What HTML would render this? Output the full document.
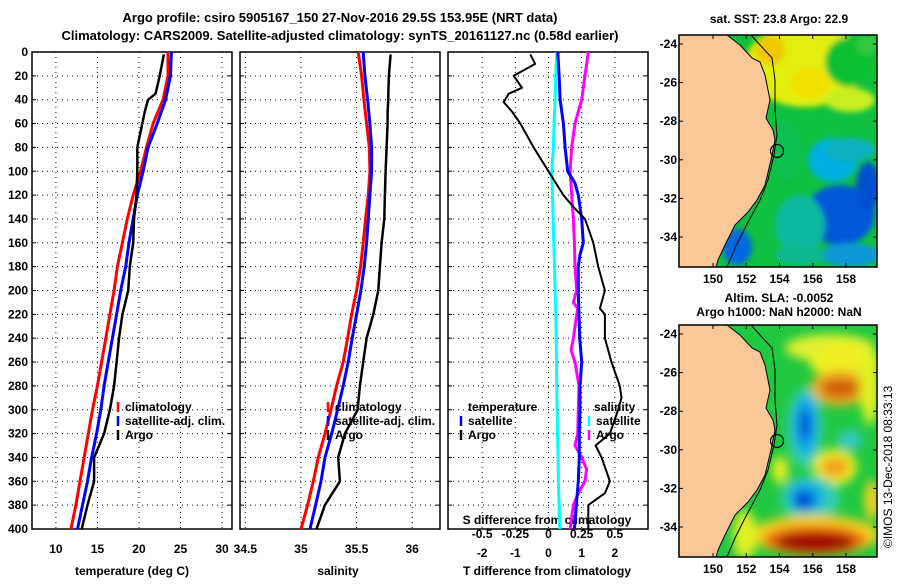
<!DOCTYPE html>
<html><head><meta charset="utf-8"><style>
body{margin:0;background:#fff;}
svg text{font-family:"Liberation Sans",Arial,sans-serif;font-weight:bold;font-size:12px;fill:#000;}
</style></head><body>
<svg id="root" width="900" height="580" viewBox="0 0 900 580" xmlns="http://www.w3.org/2000/svg">
<defs>
<filter id="bl" x="-50%" y="-50%" width="200%" height="200%"><feGaussianBlur stdDeviation="5"/></filter>
<filter id="bl2" x="-50%" y="-50%" width="200%" height="200%"><feGaussianBlur stdDeviation="3"/></filter>
<clipPath id="c1"><rect x="679" y="35" width="198" height="232"/></clipPath>
<clipPath id="c2"><rect x="679" y="325" width="198" height="232"/></clipPath>
</defs>
<text x="340" y="22" text-anchor="middle" style="font-size:13px">Argo profile: csiro 5905167_150 27-Nov-2016 29.5S 153.95E (NRT data)</text>
<text x="340" y="40" text-anchor="middle" style="font-size:13px">Climatology: CARS2009. Satellite-adjusted climatology: synTS_20161127.nc (0.58d earlier)</text>
<g id="panels"></g>
<g id="maps"></g>
<text transform="translate(892,548) rotate(-90)" style="font-weight:normal;font-size:12px">©IMOS 13-Dec-2018 08:33:13</text>
</svg>
<script>
const depths=[0,20,40,60,80,100,120,140,160,180,200,220,240,260,280,300,320,340,360,380,400];
const tClim=[23.5,23.5,22.9,21.7,20.9,20.2,19.3,18.6,18.0,17.4,17.0,16.5,16.0,15.5,15.0,14.4,13.9,13.4,12.9,12.4,11.8];
const tSat=[23.9,23.8,23.2,22.2,21.1,20.5,19.8,19.3,18.8,18.4,17.8,17.3,16.8,16.3,15.8,15.4,14.9,14.3,13.8,13.2,12.6];
const argoDepths=[2,20,35,40,50,60,80,100,120,140,160,180,200,220,240,260,280,300,320,340,360,380,400];
const tArgo=[23.0,22.5,22.0,21.1,20.7,20.4,19.8,19.8,19.7,19.4,19.3,18.9,18.7,18.0,17.6,17.3,17.0,16.5,15.8,14.6,14.6,13.8,13.1];
const sClim=[35.515,35.545,35.566,35.590,35.614,35.620,35.605,35.581,35.560,35.536,35.500,35.455,35.419,35.380,35.320,35.270,35.216,35.156,35.111,35.060,35.000];
const sSat=[35.560,35.575,35.599,35.620,35.635,35.635,35.620,35.605,35.590,35.569,35.539,35.500,35.461,35.425,35.380,35.329,35.276,35.216,35.180,35.132,35.081];
const sArgo=[35.806,35.791,35.785,35.785,35.779,35.779,35.770,35.761,35.755,35.749,35.725,35.710,35.695,35.650,35.590,35.560,35.530,35.509,35.395,35.335,35.350,35.215,35.140];
const dDepths=[2,10,20,30,35,42,50,60,80,100,120,130,140,160,180,200,215,220,240,260,280,290,300,320,330,340,360,370,380,400];
const dTArgo=[-0.55,-0.4,-1.05,-0.8,-1.2,-1.35,-1.1,-0.85,-0.45,0,0.45,0.75,1.1,1.35,1.5,1.7,1.55,1.7,1.7,1.9,2.15,2.2,2.1,1.85,1.42,1.6,1.85,1.7,1.2,1.2];
const dTSat=[0.28,0.32,0.35,0.45,0.5,0.58,0.8,0.9,1.0,1.05,0.95,0.9,0.9,0.92,0.94,1.0,0.95,0.95,0.93,0.93,0.9,0.78];
const dTSatDepths=[0,20,40,60,80,100,110,120,140,160,170,180,200,220,240,260,280,300,320,340,360,400];
const dSSat=[0.0625,0.055,0.05,0.042,0.037,0.025,0.03,0.035,0.04,0.045,0.05,0.055,0.058,0.06,0.062,0.065,0.068,0.0725,0.075,0.08,0.085];
const dSArgoDepths=[0,20,40,60,80,100,120,140,160,180,200,210,215,220,240,250,260,280,300,320,330,340,350,360,370,380,390,400];
const dSArgo=[0.30,0.275,0.25,0.2,0.175,0.1625,0.175,0.1875,0.195,0.2,0.2125,0.1875,0.22,0.2125,0.1875,0.17,0.2,0.23,0.225,0.22,0.2,0.25,0.2875,0.275,0.225,0.1875,0.175,0.1625];
const depthTicks=[0,20,40,60,80,100,120,140,160,180,200,220,240,260,280,300,320,340,360,380,400];
const tTicks=[10,15,20,25,30];
const sTicks=[34.5,35,35.5,36];
const dTTicks=[-2,-1,0,1,2];
const dSTicks=[-0.5,-0.25,0,0.25,0.5];
const lonTicks=[150,152,154,156,158];
const latTicks=[-24,-26,-28,-30,-32,-34];

const NS="http://www.w3.org/2000/svg";
function mk(tag,attrs,parent){const e=document.createElementNS(NS,tag);for(const k in attrs)e.setAttribute(k,attrs[k]);parent.appendChild(e);return e;}
const G=document.getElementById('panels');
const Y0=52,Y1=529;
const yS=d=>Y0+d*(Y1-Y0)/400;
function axis(x0,x1,v0,v1){return v=>x0+(v-v0)*(x1-x0)/(v1-v0);}
const P=[{x0:32,x1:232,v0:7.12,v1:31.2,name:'temperature'},{x0:240,x1:440,v0:34.452,v1:36.25,name:'salinity'},{x0:448,x1:648,v0:-3.03,v1:3.0,name:'difference'}];
P.forEach((p,i)=>{
  p.xs=axis(p.x0,p.x1,p.v0,p.v1);
  const g=mk('g',{},G);
  
  
  depthTicks.forEach(d=>{if(d>0&&d<400){const l=mk('line',{x1:p.x0,x2:p.x1,y1:yS(d),y2:yS(d),stroke:'#000','stroke-width':1,'stroke-dasharray':'1,4'},g);
    }
    mk('line',{x1:p.x0,x2:p.x0+4,y1:yS(d),y2:yS(d),stroke:'#000'},g);mk('line',{x1:p.x1-4,x2:p.x1,y1:yS(d),y2:yS(d),stroke:'#000'},g);});
  const ticks=i==0?tTicks:i==1?sTicks:dTTicks;
  ticks.forEach(v=>{const x=p.xs(v);
    if(x>p.x0+2&&x<p.x1-2){const l=mk('line',{x1:x,x2:x,y1:Y0,y2:Y1,stroke:'#000','stroke-dasharray':'1,4'},g);
      }
    const t=mk('text',{x:x,y:i==2?557:553,'text-anchor':'middle'},g);t.textContent=v;
    });
  const r=mk('rect',{x:p.x0,y:Y0,width:p.x1-p.x0,height:Y1-Y0,fill:'none',stroke:'#000','stroke-width':1.5},g);
  
});
depthTicks.forEach(d=>{const t=mk('text',{x:28,y:yS(d)+4,'text-anchor':'end'},G);t.textContent=d;
  });
const sx=axis(448,648,-3.03/4,3.0/4);
dSTicks.forEach(v=>{const t=mk('text',{x:sx(v),y:538,'text-anchor':'middle'},G);t.textContent=v;
  });
function lbl(x,y,s,name,anchor){const t=mk('text',{x:x,y:y,'text-anchor':anchor||'middle'},G);t.textContent=s;return t;}
lbl(132,575,'temperature (deg C)','x-axis-title-temperature');
lbl(338,575,'salinity','x-axis-title-salinity');
lbl(547,575,'T difference from climatology','x-axis-title-t-diff');
lbl(547,524,'S difference from climatology','x-axis-title-s-diff');
function line(xs,vals,ds,color,w,name){
  const pts=vals.map((v,k)=>xs(v).toFixed(1)+','+yS(ds[k]).toFixed(1)).join(' ');
  const l=mk('polyline',{points:pts,fill:'none',stroke:color,'stroke-width':w,'stroke-linejoin':'round'},G);
  }
line(P[0].xs,tClim,depths,'#f00',3,'temperature-climatology-line');
line(P[0].xs,tSat,depths,'#00f',3,'temperature-satellite-line');
line(P[0].xs,tArgo,argoDepths,'#000',2.5,'temperature-argo-line');
line(P[1].xs,sClim,depths,'#f00',3,'salinity-climatology-line');
line(P[1].xs,sSat,depths,'#00f',3,'salinity-satellite-line');
line(P[1].xs,sArgo,argoDepths,'#000',2.5,'salinity-argo-line');
line(sx,dSSat,depths,'#0ff',3,'s-diff-satellite-line');
line(sx,dSArgo,dSArgoDepths,'#f0f',3,'s-diff-argo-line');
line(P[2].xs,dTSat,dTSatDepths,'#00f',3,'t-diff-satellite-line');
line(P[2].xs,dTArgo,dDepths,'#000',2,'t-diff-argo-line');
function leg(x,y,c,s,name){const l=mk('line',{x1:x,x2:x,y1:y-9,y2:y+1,stroke:c,'stroke-width':2.5},G);
  
  if(s)lbl(x+7,y,s,name,'start');}
leg(118,411,'#f00','climatology','legend-t-climatology');
leg(118,425,'#00f','satellite-adj. clim.','legend-t-satellite');
leg(118,439,'#000','Argo','legend-t-argo');
leg(328,411,'#f00','climatology','legend-s-climatology');
leg(328,425,'#00f','satellite-adj. clim.','legend-s-satellite');
leg(328,439,'#000','Argo','legend-s-argo');
lbl(468,411,'temperature','legend-temperature-heading','start');
leg(461,425,'#00f','satellite','legend-dt-satellite');
leg(461,439,'#000','Argo','legend-dt-argo');
lbl(594,411,'salinity','legend-salinity-heading','start');
leg(589,425,'#0ff','satellite','legend-ds-satellite');
leg(589,439,'#f0f','Argo','legend-ds-argo');

// maps
const M=document.getElementById('maps');
const lonX=axis(713,846,150,158);
function coast(dy){return [[727,35],[740,45],[752,58],[760,62],[765,75],[768,90],[770,100],[766,118],[773,130],[775,140],[771,160],[765,185],[757,200],[748,212],[735,225],[725,245],[718,260],[716,267]].map(p=>p[0]+','+(p[1]+dy)).join(' ');}
function shelf(dy){return [[751,35],[760,45],[772,58],[775,80],[775,110],[777,135],[774,155],[768,180],[760,200],[745,228],[735,248],[727,267]].map(p=>p[0]+','+(p[1]+dy)).join(' ');}
function drawMap(dy,clip,blobs,base,name,latTop,latBot,filt){
  const g=mk('g',{'clip-path':'url(#'+clip+')'},M);
  
  mk('rect',{x:679,y:35+dy,width:198,height:232,fill:base},g);
  const bg=mk('g',{filter:'url(#'+filt+')'},g);
  blobs.forEach(b=>mk('ellipse',{cx:b[0],cy:b[1]+dy,rx:b[2],ry:b[3],fill:b[4]},bg));
  const land=mk('polygon',{points:'679,'+(35+dy)+' '+coast(dy)+' 679,'+(267+dy),fill:'#f9c896',stroke:'#000','stroke-width':1},g);
  
  mk('polyline',{points:shelf(dy),fill:'none',stroke:'#000','stroke-width':1},g);
  const c=mk('circle',{cx:777,cy:151+dy,r:6.5,fill:'none',stroke:'#000','stroke-width':1.2},g);
  
  const fr=mk('rect',{x:679,y:35+dy,width:198,height:232,fill:'none',stroke:'#000','stroke-width':1.5},M);
  
  const latY=axis(latTop,latBot,-24,-34);
  latTicks.forEach(v=>{const y=latY(v);
    mk('line',{x1:679,x2:683,y1:y,y2:y,stroke:'#000'},M);mk('line',{x1:873,x2:877,y1:y,y2:y,stroke:'#000'},M);
    const t=mk('text',{x:677,y:y+4,'text-anchor':'end'},M);t.textContent=v;
    });
  lonTicks.forEach(v=>{const x=lonX(v);
    mk('line',{x1:x,x2:x,y1:35+dy,y2:39+dy,stroke:'#000'},M);mk('line',{x1:x,x2:x,y1:263+dy,y2:267+dy,stroke:'#000'},M);
    const t=mk('text',{x:x,y:283+dy,'text-anchor':'middle'},M);t.textContent=v;
    });
}
const sstBlobs=[[805,65,60,42,'#e2ee10'],[770,50,15,15,'#f0c800'],[810,83,20,15,'#f0e000'],[850,100,25,12,'#c8ee20'],
 [850,62,25,25,'#10c030'],[868,45,12,10,'#30c840'],[833,160,25,22,'#00b0e0'],[840,215,35,30,'#0058d8'],[868,187,12,25,'#0050d0'],
 [850,150,25,12,'#10b0c0'],[787,150,15,30,'#10c050'],[800,225,25,30,'#10b8a0'],[737,247,15,18,'#0068e0'],[850,255,30,12,'#0898d8'],[800,255,25,10,'#10b890']];
drawMap(0,'c1',sstBlobs,'#10c040','sst-map',44,237,'bl2');
const slaBlobs=[[830,58,45,14,'#e0f030'],[845,72,35,18,'#f0f020'],[840,98,30,18,'#f0b020'],[840,98,20,10,'#d06010'],
 [805,138,18,40,'#30d0b0'],[805,135,12,30,'#10a8e8'],[805,135,6,17,'#0058d8'],[850,150,13,10,'#30c8c0'],
 [835,177,22,18,'#f0f020'],[835,177,14,10,'#f0a020'],[810,208,30,22,'#30d0b0'],[806,207,18,15,'#10a8e8'],[804,210,10,9,'#0048d0'],
 [780,180,8,14,'#e8f020'],[815,245,65,20,'#f0d020'],[815,250,52,15,'#f07010'],[815,252,40,10,'#a00000'],[872,210,8,20,'#f0d020'],
 [870,95,10,40,'#e0f020'],[745,245,12,25,'#e0f020']];
drawMap(290,'c2',slaBlobs,'#20c840','sla-map',334,527,'bl');
function mt(x,y,s,name){const t=mk('text',{x:x,y:y,'text-anchor':'middle'},M);t.textContent=s;}
mt(779,23,'sat. SST: 23.8 Argo: 22.9','sst-map-title');
mt(779,302,'Altim. SLA: -0.0052','sla-map-title');
mt(779,316,'Argo h1000: NaN h2000: NaN','sla-map-subtitle');
</script>
</body></html>
